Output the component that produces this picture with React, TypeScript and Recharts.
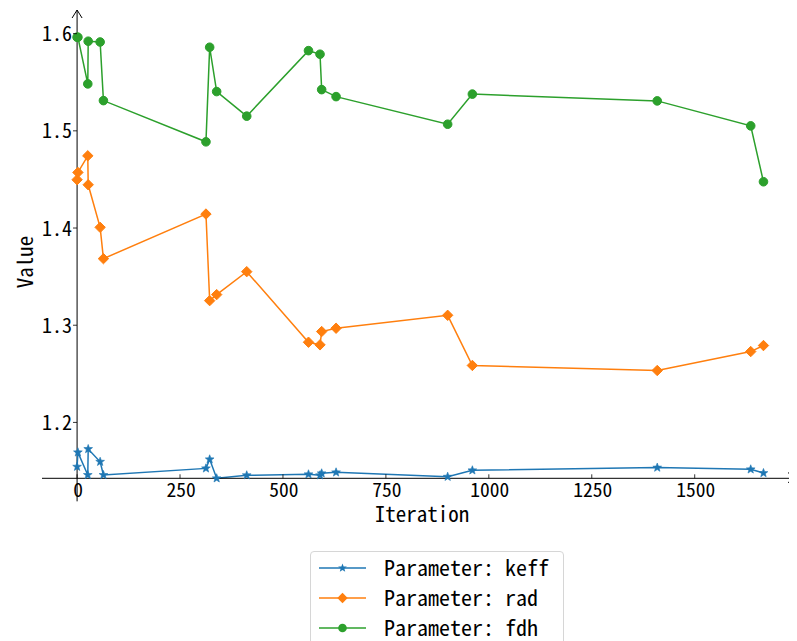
import React from 'react';
import { LineChart, Line, XAxis, YAxis, ReferenceLine, ReferenceDot } from 'recharts';

const iterations = [0, 2, 26, 27, 56, 64, 313, 322, 339, 412, 562, 590, 594, 629, 900, 960, 1409, 1636, 1667];
const keff = [1.1544, 1.1692, 1.1459, 1.1726, 1.1595, 1.1459, 1.1527, 1.1620, 1.1425, 1.1456, 1.1466, 1.1456, 1.1476, 1.1486, 1.1441, 1.1507, 1.1535, 1.1517, 1.1479];
const rad = [1.4497, 1.4572, 1.4743, 1.4445, 1.4007, 1.3685, 1.4144, 1.3253, 1.3315, 1.3551, 1.2825, 1.2798, 1.2935, 1.2969, 1.3102, 1.2586, 1.2534, 1.2729, 1.2791];
const fdh = [1.5963, 1.5963, 1.5483, 1.5922, 1.5914, 1.5311, 1.4887, 1.5860, 1.5404, 1.5151, 1.5825, 1.5788, 1.5424, 1.5352, 1.5068, 1.5378, 1.5308, 1.5051, 1.4476];

const xTicks = [0, 250, 500, 750, 1000, 1250, 1500];
const yTicks = [1.2, 1.3, 1.4, 1.5, 1.6];
const seriesNames = ['Parameter: keff', 'Parameter: rad', 'Parameter: fdh'];

const BLUE = '#1f77b4';
const ORANGE = '#ff7f0e';
const GREEN = '#2ca02c';
const FONT = "'Noto Sans Mono CJK SC', 'DejaVu Sans Mono', monospace";

const data = iterations.map((it, i) => ({ it, keff: keff[i], rad: rad[i], fdh: fdh[i] }));

const X_MIN = -85.2;
const X_MAX = 1746;
const Y_MIN = 1.14317;
const Y_MAX = 1.62432;
const Y_AXIS_BOTTOM = 1.1188;

const starPath = (cx: number, cy: number, R: number) => {
  const r = R * 0.42;
  let d = '';
  for (let k = 0; k < 10; k++) {
    const rr = k % 2 === 0 ? R : r;
    const a = -Math.PI / 2 + (k * Math.PI) / 5;
    d += (k === 0 ? 'M' : 'L') + (cx + rr * Math.cos(a)).toFixed(2) + ' ' + (cy + rr * Math.sin(a)).toFixed(2) + ' ';
  }
  return d + 'Z';
};

const StarDot = (p: any) => (
  <path key={`s${p.index}`} d={starPath(p.cx, p.cy, 4.6)} fill={BLUE} stroke={BLUE} strokeWidth={0.6} />
);
const DiamondDot = (p: any) => (
  <path key={`d${p.index}`} d={`M${p.cx} ${p.cy - 5.2} L${p.cx + 5.2} ${p.cy} L${p.cx} ${p.cy + 5.2} L${p.cx - 5.2} ${p.cy} Z`} fill={ORANGE} stroke={ORANGE} />
);
const CircleDot = (p: any) => <circle key={`c${p.index}`} cx={p.cx} cy={p.cy} r={4.3} fill={GREEN} stroke={GREEN} />;

const XTick = (p: any) => {
  const { x, y, payload } = p;
  return (
    <g>
      <line x1={x} x2={x} y1={y - 8} y2={y - 12} stroke="#000" strokeWidth={0.8} />
      <text x={x + 1} y={y + 2} textAnchor="middle" dominantBaseline="central" fontFamily={FONT} fontSize={19.5} fill="#000">
        {payload.value}
      </text>
    </g>
  );
};

const YTick = (p: any) => {
  const { y, payload } = p;
  return (
    <g>
      <line x1={65} x2={69} y1={y} y2={y} stroke="#000" strokeWidth={0.8} />
      <text x={64} y={y - 1} textAnchor="end" dominantBaseline="central" fontFamily={FONT} fontSize={20} fill="#000">
        {Number(payload.value).toFixed(1)}
      </text>
    </g>
  );
};

const UpArrow = (p: any) => (
  <path d={`M${p.cx - 5} ${p.cy + 8} L${p.cx} ${p.cy} L${p.cx + 5} ${p.cy + 8}`} fill="none" stroke="#000" strokeWidth={1} />
);
const RightArrow = (p: any) => (
  <path d={`M${p.cx - 8} ${p.cy - 5} L${p.cx} ${p.cy} L${p.cx - 8} ${p.cy + 5}`} fill="none" stroke="#000" strokeWidth={1} />
);

const legendIcons = [
  (cx: number, cy: number) => <path d={starPath(cx, cy, 4.6)} fill={BLUE} />,
  (cx: number, cy: number) => <path d={`M${cx} ${cy - 5.2} L${cx + 5.2} ${cy} L${cx} ${cy + 5.2} L${cx - 5.2} ${cy} Z`} fill={ORANGE} />,
  (cx: number, cy: number) => <circle cx={cx} cy={cy} r={4.3} fill={GREEN} />,
];
const legendColors = [BLUE, ORANGE, GREEN];

export default function App() {
  return (
    <div style={{ position: 'relative', width: 789, height: 633, background: '#fff', overflow: 'hidden' }}>
      <LineChart
        width={789}
        height={633}
        data={data}
        margin={{ top: 2, right: 1, left: 24, bottom: 122.7 }}
      >
        <XAxis
          dataKey="it"
          type="number"
          domain={[X_MIN, X_MAX]}
          ticks={xTicks}
          tick={<XTick />}
          tickLine={false}
          axisLine={{ stroke: '#000', strokeWidth: 1 }}
          height={40}
          interval={0}
          label={{
            content: () => (
              <text x={414} y={505} textAnchor="middle" dominantBaseline="central" fontFamily={FONT} fontSize={21} fill="#000">
                Iteration
              </text>
            ),
          }}
        />
        <YAxis
          type="number"
          domain={[Y_MIN, Y_MAX]}
          ticks={yTicks}
          tick={<YTick />}
          tickLine={false}
          axisLine={false}
          width={10}
          interval={0}
          label={{
            content: () => (
              <text
                x={16}
                y={254}
                textAnchor="middle"
                dominantBaseline="central"
                fontFamily={FONT}
                fontSize={21}
                fill="#000"
                transform="rotate(-90 16 254)"
              >
                Value
              </text>
            ),
          }}
        />
        <ReferenceLine
          segment={[{ x: 0, y: Y_AXIS_BOTTOM }, { x: 0, y: Y_MAX }]}
          stroke="#000"
          strokeWidth={1}
          ifOverflow="visible"
        />
        <ReferenceDot x={0} y={Y_MAX} ifOverflow="visible" shape={<UpArrow />} />
        <ReferenceDot x={X_MAX} y={Y_MIN} ifOverflow="visible" shape={<RightArrow />} />
        <Line dataKey="keff" stroke={BLUE} strokeWidth={1.5} dot={StarDot} activeDot={false} isAnimationActive={false} />
        <Line dataKey="rad" stroke={ORANGE} strokeWidth={1.5} dot={DiamondDot} activeDot={false} isAnimationActive={false} />
        <Line dataKey="fdh" stroke={GREEN} strokeWidth={1.5} dot={CircleDot} activeDot={false} isAnimationActive={false} />
      </LineChart>
      <div
        style={{
          position: 'absolute',
          left: 302,
          top: 543,
          width: 254,
          height: 110,
          border: '1px solid #d6d6d6',
          borderRadius: 4,
          boxSizing: 'border-box',
          background: '#fff',
        }}
      >
        {seriesNames.map((name, i) => (
          <div key={name} style={{ position: 'absolute', left: 0, top: 1 + i * 30, height: 30, width: '100%' }}>
            <svg width={60} height={30} style={{ position: 'absolute', left: 8, top: 0 }}>
              <line x1={0} x2={47} y1={15} y2={15} stroke={legendColors[i]} strokeWidth={1.5} />
              {legendIcons[i](23.5, 15)}
            </svg>
            <span
              style={{
                position: 'absolute',
                left: 73,
                top: -2,
                lineHeight: '30px',
                fontFamily: FONT,
                fontSize: 22,
                color: '#000',
                whiteSpace: 'nowrap',
              }}
            >
              {name}
            </span>
          </div>
        ))}
      </div>
    </div>
  );
}
